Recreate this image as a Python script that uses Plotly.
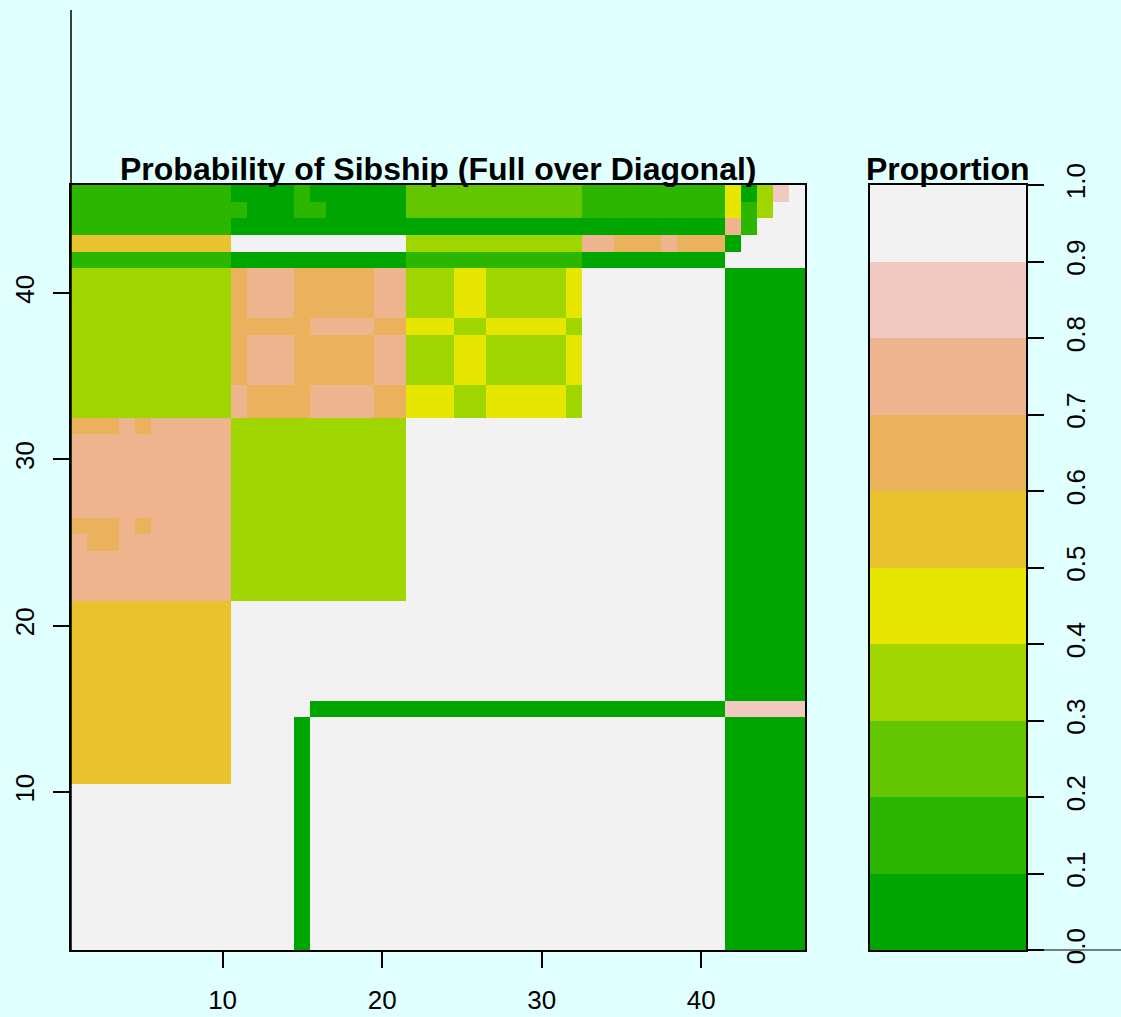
import plotly.graph_objects as go

W, H = 1121, 1017

# Decile code of each cell (0 -> 0.0-0.1, ..., 9 -> 0.9-1.0).
# Rows listed from the top of the chart (row 46) down to row 1; columns 1..46.
prob_deciles = [
    "1111111111" "0000" "1" "000000" "22222222222" "111111111" "40389",   # 46
    "1111111111" "1" "000" "11" "00000" "22222222222" "111111111" "41399",  # 45
    "1111111111" "0000000000000000000000000000000" "71999",              # 44
    "5555555555" "99999999999" "33333333333" "77" "666" "7" "666" "0" "9999",  # 43
    "1111111111" "00000000000" "11111111111" "000000000" "99999",        # 42
    "3333333333" "6" "777" "66666" "77" "333" "44" "33333" "4" "999999999" "00000",  # 41
    "3333333333" "6" "777" "66666" "77" "333" "44" "33333" "4" "999999999" "00000",  # 40
    "3333333333" "6" "777" "66666" "77" "333" "44" "33333" "4" "999999999" "00000",  # 39
    "3333333333" "66666" "7777" "66" "444" "33" "44444" "3" "999999999" "00000",     # 38
    "3333333333" "6" "777" "66666" "77" "333" "44" "33333" "4" "999999999" "00000",  # 37
    "3333333333" "6" "777" "66666" "77" "333" "44" "33333" "4" "999999999" "00000",  # 36
    "3333333333" "6" "777" "66666" "77" "333" "44" "33333" "4" "999999999" "00000",  # 35
    "3333333333" "7" "6666" "7777" "66" "444" "33" "44444" "3" "999999999" "00000",  # 34
    "3333333333" "7" "6666" "7777" "66" "444" "33" "44444" "3" "999999999" "00000",  # 33
    "6667677777" "33333333333" "99999999999999999999" "00000",          # 32
    "7777777777" "33333333333" "99999999999999999999" "00000",          # 31
    "7777777777" "33333333333" "99999999999999999999" "00000",          # 30
    "7777777777" "33333333333" "99999999999999999999" "00000",          # 29
    "7777777777" "33333333333" "99999999999999999999" "00000",          # 28
    "7777777777" "33333333333" "99999999999999999999" "00000",          # 27
    "6667677777" "33333333333" "99999999999999999999" "00000",          # 26
    "7667777777" "33333333333" "99999999999999999999" "00000",          # 25
    "7777777777" "33333333333" "99999999999999999999" "00000",          # 24
    "7777777777" "33333333333" "99999999999999999999" "00000",          # 23
    "7777777777" "33333333333" "99999999999999999999" "00000",          # 22
    "5555555555" "9999999999999999999999999999999" "00000",             # 21
    "5555555555" "9999999999999999999999999999999" "00000",             # 20
    "5555555555" "9999999999999999999999999999999" "00000",             # 19
    "5555555555" "9999999999999999999999999999999" "00000",             # 18
    "5555555555" "9999999999999999999999999999999" "00000",             # 17
    "5555555555" "9999999999999999999999999999999" "00000",             # 16
    "5555555555" "99999" "00000000000000000000000000" "88888",          # 15
    "5555555555" "9999" "0" "99999999999999999999999999" "00000",       # 14
    "5555555555" "9999" "0" "99999999999999999999999999" "00000",       # 13
    "5555555555" "9999" "0" "99999999999999999999999999" "00000",       # 12
    "5555555555" "9999" "0" "99999999999999999999999999" "00000",       # 11
    "9999999999" "9999" "0" "99999999999999999999999999" "00000",       # 10
    "9999999999" "9999" "0" "99999999999999999999999999" "00000",       # 9
    "9999999999" "9999" "0" "99999999999999999999999999" "00000",       # 8
    "9999999999" "9999" "0" "99999999999999999999999999" "00000",       # 7
    "9999999999" "9999" "0" "99999999999999999999999999" "00000",       # 6
    "9999999999" "9999" "0" "99999999999999999999999999" "00000",       # 5
    "9999999999" "9999" "0" "99999999999999999999999999" "00000",       # 4
    "9999999999" "9999" "0" "99999999999999999999999999" "00000",       # 3
    "9999999999" "9999" "0" "99999999999999999999999999" "00000",       # 2
    "9999999999" "9999" "0" "99999999999999999999999999" "00000",       # 1
]

terrain_colors = ["#00A600", "#2DB600", "#63C600", "#A0D600", "#E6E600",
                  "#E8C32E", "#EBB25E", "#EDB48E", "#F0C9C0", "#F2F2F2"]
proportion_breaks = [0.0, 0.1, 0.2, 0.3, 0.4, 0.5, 0.6, 0.7, 0.8, 0.9, 1.0]
proportion_labels = ["0.0", "0.1", "0.2", "0.3", "0.4", "0.5", "0.6", "0.7", "0.8", "0.9", "1.0"]
axis_ticks = [10, 20, 30, 40]
n = 46

for r in prob_deciles:
    assert len(r) == n, (len(r), r)

# discrete colorscale
colorscale = []
for i, c in enumerate(terrain_colors):
    colorscale.append([proportion_breaks[i], c])
    colorscale.append([proportion_breaks[i + 1], c])

# z from bottom row (1) to top row (46)
z = [[int(ch) / 10 + 0.05 for ch in row] for row in reversed(prob_deciles)]
idx = list(range(1, n + 1))

band_mids = [(proportion_breaks[i] + proportion_breaks[i + 1]) / 2 for i in range(10)]

fig = go.Figure()
fig.add_trace(go.Heatmap(z=z, x=idx, y=idx, colorscale=colorscale, zmin=0, zmax=1,
                         showscale=False, xaxis="x", yaxis="y", hoverinfo="skip"))
fig.add_trace(go.Heatmap(z=[[v] for v in band_mids], x=[0], y=band_mids,
                         colorscale=colorscale, zmin=0, zmax=1, showscale=False,
                         xaxis="x2", yaxis="y2", hoverinfo="skip"))

FONT = "Liberation Sans, Arial, Helvetica, sans-serif"
tickfont = dict(family=FONT, size=26, color="black")

ydom = [(H - 950) / H, (H - 185) / H]
common = dict(showgrid=False, zeroline=False, showline=True, mirror=True,
              linecolor="black", linewidth=1.5, automargin=False)

fig.update_layout(
    width=W, height=H,
    margin=dict(l=0, r=0, t=0, b=0, pad=0),
    paper_bgcolor="#E0FFFF", plot_bgcolor="#E0FFFF",
    xaxis=dict(domain=[71 / W, 805 / W], range=[0.5, 46.5], tickvals=axis_ticks,
               ticks="outside", ticklen=16, tickwidth=1.5, tickcolor="black",
               tickfont=tickfont, ticklabelstandoff=10, anchor="y", **common),
    yaxis=dict(domain=ydom, range=[0.5, 46.5], tickvals=axis_ticks,
               ticks="outside", ticklen=16, tickwidth=1.5, tickcolor="black",
               tickangle=-90, tickfont=tickfont, ticklabelstandoff=9, anchor="x", **common),
    xaxis2=dict(domain=[870 / W, 1026 / W], range=[-0.5, 0.5], showticklabels=False,
                ticks="", anchor="y2", **common),
    yaxis2=dict(domain=ydom, range=[0, 1], tickvals=proportion_breaks, ticktext=proportion_labels,
                side="right", ticks="outside", ticklen=16, tickwidth=1.5, tickcolor="black",
                tickangle=-90, tickfont=tickfont, ticklabelstandoff=10, anchor="x2", **common),
    showlegend=False,
)

titlefont = dict(family=FONT, size=32, color="black")
fig.add_annotation(text="<b>Probability of Sibship (Full over Diagonal)</b>", xref="paper", yref="paper",
                   x=438 / W, y=(H - 169) / H, xanchor="center", yanchor="middle",
                   showarrow=False, font=titlefont)
fig.add_annotation(text="<b>Proportion</b>", xref="paper", yref="paper",
                   x=948 / W, y=(H - 169) / H, xanchor="center", yanchor="middle",
                   showarrow=False, font=titlefont)

# extended left axis line and right baseline
fig.add_shape(type="line", xref="paper", yref="paper", x0=71 / W, x1=71 / W,
              y0=(H - 950) / H, y1=(H - 10) / H, line=dict(color="black", width=1.5))
fig.add_shape(type="line", xref="paper", yref="paper", x0=1026 / W, x1=1.0,
              y0=(H - 950) / H, y1=(H - 950) / H, line=dict(color="black", width=1))

fig.write_html("out.html", config={"displayModeBar": False},
               post_script="document.body.style.margin='0';document.body.style.padding='0';"
                           "document.body.style.overflow='hidden';")
